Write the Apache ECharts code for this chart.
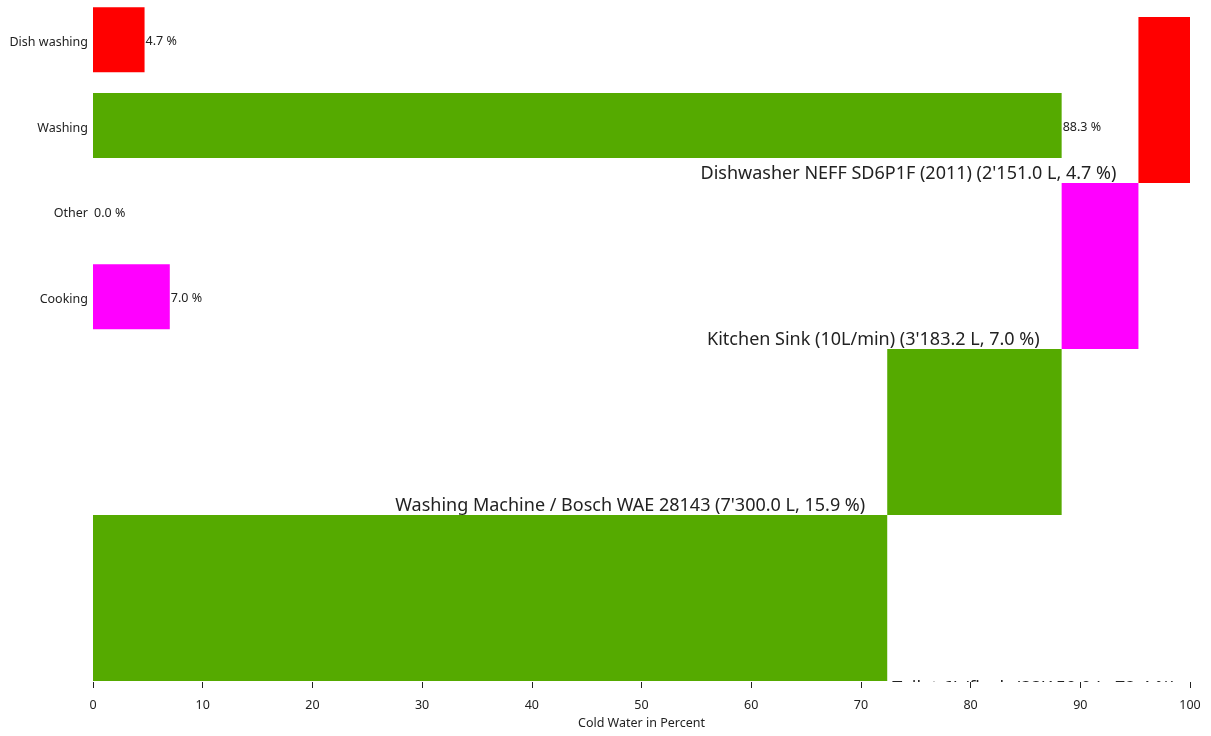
<!DOCTYPE html>
<html>
<head>
<meta charset="utf-8">
<title>Cold Water</title>
<script src="https://cdn.jsdelivr.net/npm/echarts@6/dist/echarts.min.js"></script>
<style>
  html, body { margin: 0; padding: 0; background: #fff; }
  #chart { width: 1211px; height: 736px; }
</style>
</head>
<body>
<div id="chart"></div>
<script>
// usage categories (top to bottom)
var categories = ['Dish washing', 'Washing', 'Other', 'Cooking'];
var categoryPercent = [4.7, 88.3, 0.0, 7.0];
var categoryColors = ['#ff0000', '#55aa00', '#ff00ff', '#ff00ff'];

// devices (bottom to top of the waterfall)
var devices = ['Toilet 6L/flush', 'Washing Machine / Bosch WAE 28143', 'Kitchen Sink (10L/min)', 'Dishwasher NEFF SD6P1F (2011)'];
var deviceLiters = [33150.0, 7300.0, 3183.2, 2151.0];
var devicePercent = [72.4, 15.9, 7.0, 4.7];
var deviceColors = ['#55aa00', '#55aa00', '#ff00ff', '#ff0000'];

var xTicks = { min: 0, max: 100, interval: 10 };

var font = '"Noto Sans", "Open Sans", sans-serif';

function litres(v) {
  var s = v.toFixed(1).split('.');
  return s[0].replace(/(\d)(?=(\d{3})+$)/g, "$1'") + '.' + s[1];
}

// offsets for the waterfall
var base = [];
var run = 0;
devicePercent.forEach(function (p) { base.push(run); run += p; });

var chart = echarts.init(document.getElementById('chart'));

var yCats = categories.concat(['', '', '', '']);

chart.setOption({
  animation: false,
  textStyle: { fontFamily: font },
  grid: [
    { left: 93, right: 21, top: -3, bottom: 54, outerBoundsMode: 'none' },
    { left: 93, right: 21, top: 17, bottom: 55, outerBoundsMode: 'none' }
  ],
  graphic: [{
    type: 'rect',
    z: 4,
    shape: { x: 880, y: 682, width: 331, height: 54 },
    style: { fill: '#fff' }
  }],
  xAxis: [{
    gridIndex: 0,
    type: 'value',
    min: xTicks.min, max: xTicks.max, interval: xTicks.interval,
    z: 6,
    name: 'Cold Water in Percent',
    nameLocation: 'middle',
    nameGap: 35,
    nameTextStyle: { color: '#222', fontSize: 12.5, fontFamily: font },
    axisLine: { show: false },
    axisTick: { show: true, length: 6, lineStyle: { color: '#222' } },
    axisLabel: { color: '#222', fontSize: 12.5, margin: 17, fontFamily: font },
    splitLine: { show: false }
  }, {
    gridIndex: 1,
    type: 'value',
    min: xTicks.min, max: xTicks.max,
    show: false
  }],
  yAxis: [{
    gridIndex: 0,
    type: 'category',
    inverse: true,
    data: yCats,
    axisLine: { show: false },
    axisTick: { show: false },
    axisLabel: {
      margin: 5,
      formatter: function (v) { return v ? '{t|' + v + '}' : ''; },
      rich: {
        t: { color: '#222', fontSize: 12.5, fontFamily: font, padding: [5, 0, 0, 0] }
      }
    }
  }, {
    gridIndex: 1,
    type: 'category',
    data: devices,
    show: false
  }],
  series: [{
    type: 'bar',
    xAxisIndex: 0,
    yAxisIndex: 0,
    barCategoryGap: '24%',
    data: categoryPercent.map(function (v, i) {
      return { value: v, itemStyle: { color: categoryColors[i] } };
    }),
    label: {
      show: true,
      position: 'right',
      distance: 1,
      offset: [0, 2],
      color: '#222',
      fontSize: 12.5,
      fontFamily: font,
      formatter: function (p) { return p.value.toFixed(1) + ' %'; }
    }
  }, {
    type: 'bar',
    xAxisIndex: 1,
    yAxisIndex: 1,
    stack: 'fall',
    barCategoryGap: 0,
    silent: true,
    itemStyle: { color: 'transparent' },
    data: base
  }, {
    type: 'bar',
    xAxisIndex: 1,
    yAxisIndex: 1,
    stack: 'fall',
    barCategoryGap: 0,
    data: devicePercent.map(function (v, i) {
      var first = i === 0;
      return {
        value: v,
        itemStyle: { color: deviceColors[i] },
        label: first ? {
          position: ['100%', '100%'],
          align: 'left',
          verticalAlign: 'top',
          offset: [5, -1]
        } : {
          position: [-22, '100%'],
          align: 'right',
          verticalAlign: 'middle',
          offset: [0, -9]
        }
      };
    }),
    label: {
      show: true,
      color: '#222',
      fontSize: 18,
      fontFamily: font,
      formatter: function (p) {
        var i = p.dataIndex;
        return devices[i] + ' (' + litres(deviceLiters[i]) + ' L, ' + devicePercent[i].toFixed(1) + ' %)';
      }
    }
  }]
});
</script>
</body>
</html>
